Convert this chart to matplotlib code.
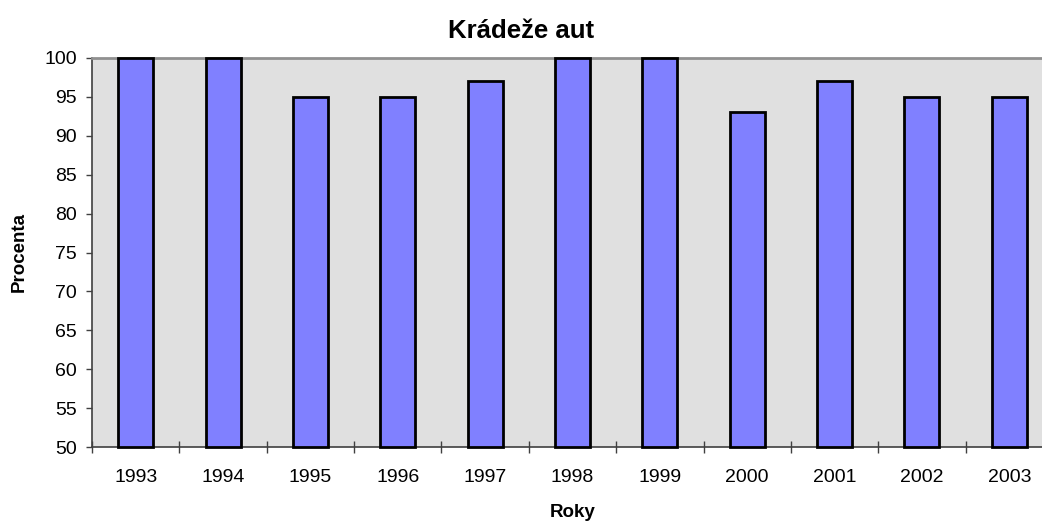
import matplotlib
matplotlib.use("Agg")
import matplotlib.pyplot as plt
import numpy as np

years = ["1993", "1994", "1995", "1996", "1997", "1998", "1999", "2000", "2001", "2002", "2003"]
values = [100, 100, 95, 95, 97, 100, 100, 93, 97, 95, 95]
yticks = [50, 55, 60, 65, 70, 75, 80, 85, 90, 95, 100]
baseline = 50

plt.rcParams['font.family'] = ['Liberation Sans', 'DejaVu Sans']

fig = plt.figure(figsize=(10.42, 5.25), dpi=100)
ax = fig.add_axes([92/1042, 1 - 447/525, 961/1042, (447 - 58)/525])
ax.set_facecolor('#E0E0E0')

x = np.arange(len(years))
heights = np.array(values) - baseline
ax.bar(x, heights, bottom=baseline, width=0.4, color='#8080FF', edgecolor='black',
       linewidth=2, zorder=3, clip_on=False)

ax.set_xlim(-0.5, len(years) - 0.5)
ax.set_ylim(50, 100)
ax.set_yticks(yticks)
ax.set_yticklabels([str(v) for v in yticks], fontsize=14)
ax.set_xticks(x)
ax.set_xticklabels(years, fontsize=14)
ax.set_xticks(np.arange(len(years) + 1) - 0.5, minor=True)
ax.tick_params(axis='x', which='major', length=0, pad=16)
ax.tick_params(axis='x', which='minor', length=9, direction='inout', width=1, color='#404040')
ax.tick_params(axis='y', which='major', length=4.3, direction='out', width=1, color='#404040', pad=6.5)

for s in ['left', 'bottom']:
    ax.spines[s].set_color('#404040')
    ax.spines[s].set_linewidth(1.2)
ax.spines['top'].set_color('#909090')
ax.spines['top'].set_linewidth(2)
ax.spines['right'].set_visible(False)

fig.text(0.5, 1 - 31/525, "Krádeže aut", fontsize=18.5, fontweight='bold', ha='center', va='center')
ax.set_xlabel("Roky", fontsize=13.5, fontweight='bold', labelpad=13)
ax.set_ylabel("Procenta", fontsize=13.5, fontweight='bold', labelpad=12)

fig.savefig("out.png", dpi=100)
